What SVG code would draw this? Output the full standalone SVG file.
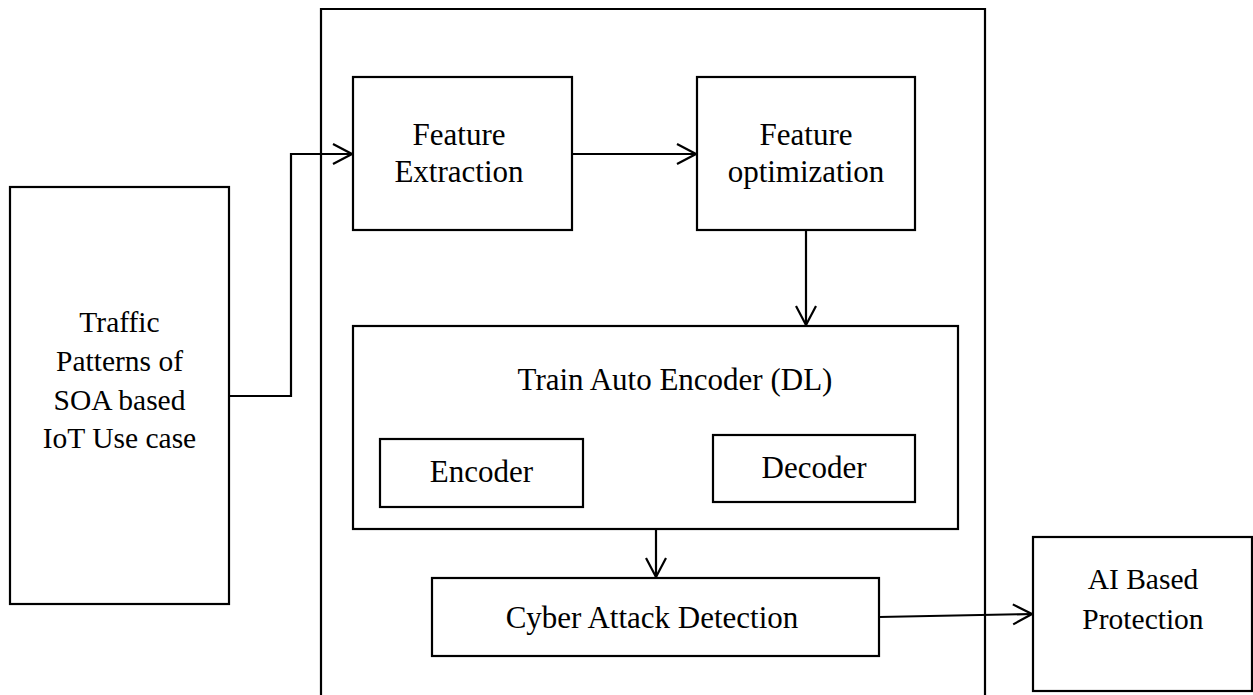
<svg xmlns="http://www.w3.org/2000/svg" width="1253" height="695" viewBox="0 0 1253 695">
<defs>
<marker id="arr" markerUnits="userSpaceOnUse" markerWidth="24" markerHeight="24" viewBox="-22 -12 24 24" refX="0" refY="0" orient="auto">
<path d="M-19,-10 L0,0 L-19,10" fill="none" stroke="#000" stroke-width="2.2"/>
</marker>
</defs>
<style>
.box{fill:#fff;stroke:#000;stroke-width:2.2}
.t{font-family:"Liberation Serif","Times New Roman",serif;font-size:31px;fill:#000;text-anchor:middle}
.s{font-size:29.5px}
.c{fill:none;stroke:#000;stroke-width:2.2;marker-end:url(#arr)}
</style>
<rect width="1253" height="695" fill="#fff"/>
<g id="container">
<path d="M321,700 V9 H985 V700" fill="none" stroke="#000" stroke-width="2.2"/>
</g>
<g id="traffic">
<rect class="box" x="10" y="187" width="219" height="417"/>
<text class="t s" x="119.5" y="332">Traffic</text>
<text class="t s" x="119.5" y="371">Patterns of</text>
<text class="t s" x="119.5" y="410">SOA based</text>
<text class="t s" x="119.5" y="448">IoT Use case</text>
</g>
<g id="feature-extraction">
<rect class="box" x="353" y="77" width="219" height="153"/>
<text class="t" x="459" y="145">Feature</text>
<text class="t" x="459" y="182">Extraction</text>
</g>
<g id="feature-optimization">
<rect class="box" x="697" y="77" width="218" height="153"/>
<text class="t" x="806" y="145">Feature</text>
<text class="t" x="806" y="182">optimization</text>
</g>
<g id="train">
<rect class="box" x="353" y="326" width="605" height="203"/>
<text class="t" x="675" y="390">Train Auto Encoder (DL)</text>
</g>
<g id="encoder">
<rect class="box" x="380" y="439" width="203" height="68"/>
<text class="t" x="481.5" y="482">Encoder</text>
</g>
<g id="decoder">
<rect class="box" x="713" y="435" width="202" height="67"/>
<text class="t" x="814" y="478">Decoder</text>
</g>
<g id="cyber">
<rect class="box" x="432" y="578" width="447" height="78"/>
<text class="t" x="652" y="628">Cyber Attack Detection</text>
</g>
<g id="ai">
<rect class="box" x="1033" y="537" width="219" height="154"/>
<text class="t s" x="1143" y="589">AI Based</text>
<text class="t s" x="1143" y="629">Protection</text>
</g>
<g id="connectors">
<path class="c" d="M229,396 H291 V154 H352"/>
<path class="c" d="M572,154 H696"/>
<path class="c" d="M806,230 V325"/>
<path class="c" d="M656,529 V577"/>
<path class="c" d="M879,617 L1032,614"/>
</g>
</svg>
